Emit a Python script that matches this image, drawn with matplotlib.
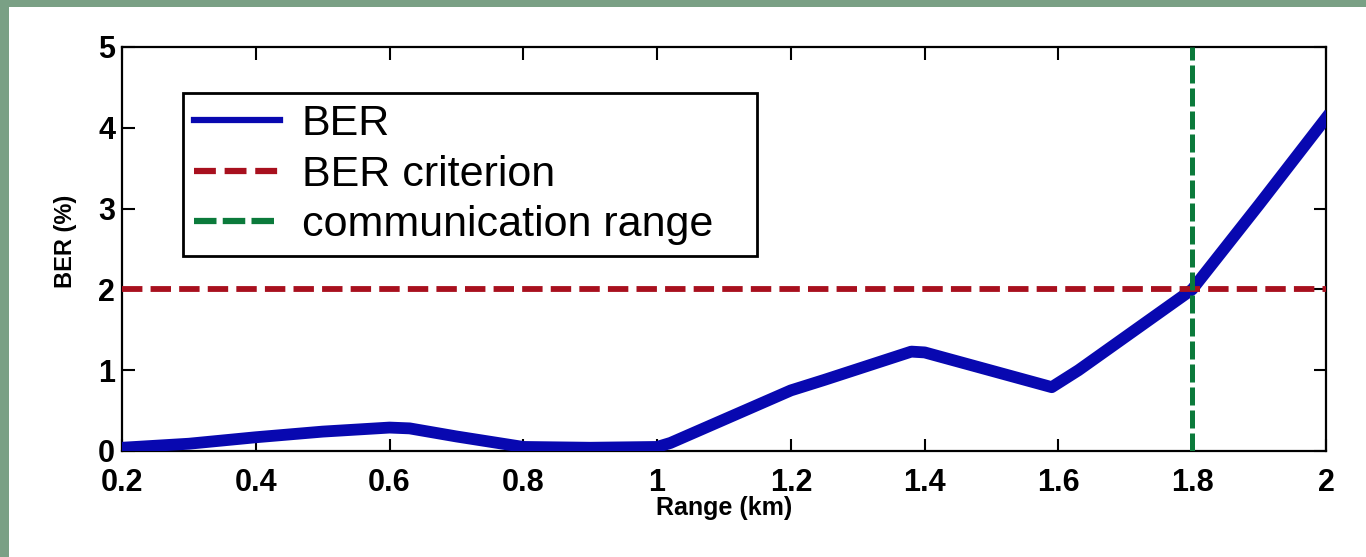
import matplotlib.pyplot as plt
from matplotlib.patches import Rectangle

# BER vs range readings (km, %)
range_km = [0.2, 0.3, 0.4, 0.5, 0.6, 0.63, 0.7, 0.8, 0.9, 1.0, 1.02, 1.2, 1.25, 1.38, 1.4, 1.59, 1.63, 1.8, 1.9, 2.0]
ber_pct = [0.04, 0.09, 0.17, 0.24, 0.29, 0.28, 0.18, 0.05, 0.04, 0.05, 0.1, 0.75, 0.88, 1.23, 1.22, 0.79, 1.0, 2.0, 3.05, 4.12]

ber_criterion = 2.0
comm_range = 1.8

x_ticks = [0.2, 0.4, 0.6, 0.8, 1.0, 1.2, 1.4, 1.6, 1.8, 2.0]
x_tick_labels = ['0.2', '0.4', '0.6', '0.8', '1', '1.2', '1.4', '1.6', '1.8', '2']
y_ticks = [0, 1, 2, 3, 4, 5]

fig = plt.figure(figsize=(13.66, 5.57), dpi=100)
fig.patch.set_facecolor('#7aa085')
# white slide panel, behind the axes
fig.patches.append(Rectangle((9 / 1366, 0), 1, 1 - 7 / 557, transform=fig.transFigure,
                             facecolor='white', edgecolor='none', zorder=-5))

ax = fig.add_axes([122 / 1366, 1 - 451 / 557, 1204 / 1366, 404 / 557])

ax.plot(range_km, ber_pct, color='#0808b0', linewidth=8.5, solid_joinstyle='round',
        label='BER', zorder=3)
ax.axhline(ber_criterion, color='#a8101e', linewidth=4.2, linestyle=(0, (3.5, 1.4)),
           label='BER criterion', zorder=4)
ax.axvline(comm_range, color='#0b7a3b', linewidth=3.6, linestyle=(0, (3.6, 1.0)),
           label='communication range', zorder=5)

ax.set_xlim(0.2, 2.0)
ax.set_ylim(0, 5)
ax.set_xticks(x_ticks)
ax.set_xticklabels(x_tick_labels)
ax.set_yticks(y_ticks)

for lab in ax.get_xticklabels() + ax.get_yticklabels():
    lab.set_fontfamily(['Liberation Sans', 'DejaVu Sans'])
    lab.set_fontweight('bold')
    lab.set_fontsize(22)

ax.tick_params(direction='in', top=True, right=True, length=9, width=1.5, color='black')
ax.tick_params(axis='x', pad=12)
ax.tick_params(axis='y', pad=5)
for s in ax.spines.values():
    s.set_linewidth(1.6)

label_family = ['Liberation Sans Narrow', 'Liberation Sans', 'DejaVu Sans']
ax.set_xlabel('Range (km)', family=label_family, fontweight='bold', fontsize=18)
ax.xaxis.set_label_coords(0.5, -0.112)
ax.set_ylabel('BER (%)', family=label_family, fontweight='bold', fontsize=17)
ax.yaxis.set_label_coords(-0.037, 0.52)

leg = ax.legend(loc='upper left', bbox_to_anchor=(0.0507, 0.486, 0.4767, 0.4),
                mode='expand', borderaxespad=0, fancybox=False, framealpha=1,
                edgecolor='black', handlelength=2.0, handletextpad=0.5,
                labelspacing=0.24, borderpad=0.26,
                prop={'family': ['Liberation Sans', 'DejaVu Sans'], 'size': 31})
leg.get_frame().set_linewidth(2)
for line in leg.get_lines():
    line.set_linewidth(4.5)

fig.savefig('out.png', dpi=100, facecolor=fig.get_facecolor())
